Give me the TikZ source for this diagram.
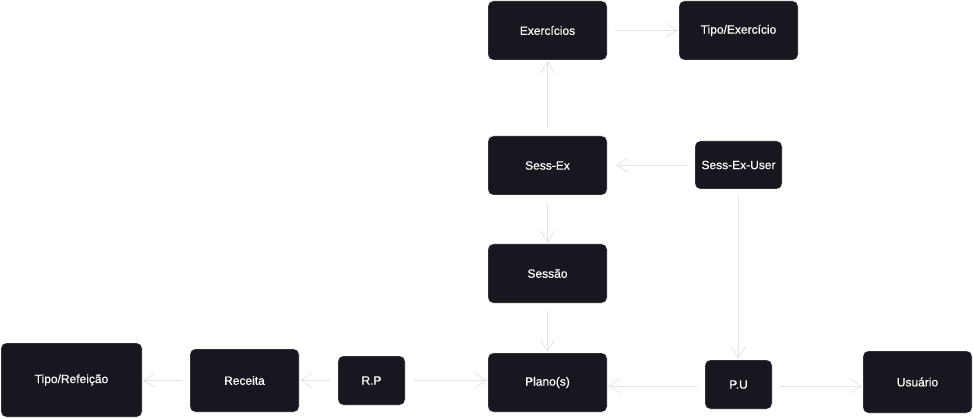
\documentclass[tikz,border=0pt]{standalone}
\usepackage{fontspec}
\setmainfont{Liberation Sans}
\newfontfamily\rotulo[FakeBold=0.5]{Liberation Sans}
\usetikzlibrary{arrows.meta}
\definecolor{boxfill}{HTML}{18161E}
\definecolor{linkgray}{HTML}{E4E4E4}
\tikzset{
  tabela/.style={draw=linkgray!60, line width=0.4pt, fill=boxfill, rounded corners=5pt,
    text=white, font=\rotulo\fontsize{12}{14}\selectfont, inner sep=0pt},
  liga/.style={draw=linkgray, line width=0.8pt,
    -{Straight Barb[length=11pt,width=14pt,line width=0.8pt]}, shorten <=8pt, shorten >=1pt}
}
\begin{document}
\begin{tikzpicture}[x=1pt,y=-1pt]
    \useasboundingbox (0,0) rectangle (973,419);

    % coluna do meio
    \node[tabela, minimum width=119pt, minimum height=59pt] (exerc) at (547.5,30.5) {Exercícios};
    \node[tabela, minimum width=119pt, minimum height=59pt] (tipoex) at (738.5,30.5) {Tipo/Exercício};
    \node[tabela, minimum width=119pt, minimum height=59pt] (sessex) at (547.5,165.5) {Sess-Ex};
    \node[tabela, minimum width=87pt, minimum height=48pt] (sessexuser) at (738.5,165) {Sess-Ex-User};
    \node[tabela, minimum width=119pt, minimum height=59pt] (sessao) at (547.5,273.5) {Sessão};
    \node[tabela, minimum width=119pt, minimum height=59pt] (plano) at (547.5,382.5) {Plano(s)};

    % linha de baixo
    \node[tabela, minimum width=67pt, minimum height=49pt] (pu) at (738.5,384.5) {P.U};
    \node[tabela, minimum width=109pt, minimum height=62pt] (usuario) at (917.5,382) {Usuário};
    \node[tabela, minimum width=141pt, minimum height=74pt] (tiporef) at (71.5,380) {Tipo/Refeição};
    \node[tabela, minimum width=109pt, minimum height=63pt] (receita) at (244.5,380.5) {Receita};
    \node[tabela, minimum width=67pt, minimum height=49pt] (rp) at (371.5,380.5) {R.P};

    \draw[liga] (exerc.east) -- (tipoex.west);
    \draw[liga] (sessex.north) -- (exerc.south);
    \draw[liga, shorten >=9pt] (sessexuser.west) -- (sessexuser.west -| sessex.east);
    \draw[liga] (sessex.south) -- (sessao.north);
    \draw[liga] (sessao.south) -- (plano.north);
    \draw[liga] (sessexuser.south) -- (pu.north);
    \draw[liga] ([yshift=-1.5pt]pu.west) -- ([yshift=-1.5pt]pu.west -| plano.east);
    \draw[liga] ([yshift=-1.5pt]pu.east) -- ([yshift=-1.5pt]pu.east -| usuario.west);
    \draw[liga] (rp.east) -- (rp.east -| plano.west);
    \draw[liga] (rp.west) -- (rp.west -| receita.east);
    \draw[liga] (receita.west) -- (receita.west -| tiporef.east);
\end{tikzpicture}
\end{document}
